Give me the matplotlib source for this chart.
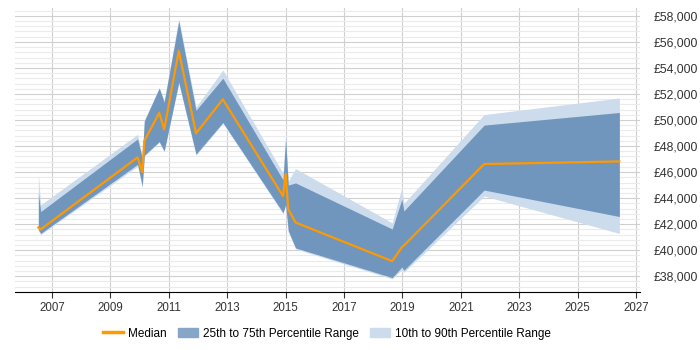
import numpy as np
import matplotlib.pyplot as plt
from matplotlib.patches import Patch
from matplotlib.lines import Line2D
from matplotlib.ticker import FuncFormatter, MultipleLocator

plt.rcParams['font.family'] = ['Liberation Sans', 'DejaVu Sans']

# sample dates (fractional years) and salary percentiles
years = [2006.53, 2006.61, 2009.93, 2010.09, 2010.16, 2010.67, 2010.84, 2011.34,
         2011.93, 2012.85, 2014.91, 2015.00, 2015.09, 2015.34, 2018.65, 2018.98,
         2019.05, 2021.80, 2026.43]
p90 = [45930, 43480, 48900, 47300, 50000, 52500, 51500, 57800,
       51000, 53840, 45930, 48700, 45300, 46270, 42100, 44790,
       43600, 50420, 51690]
p75 = [44400, 42970, 48550, 47070, 49920, 52450, 51380, 57600,
       50750, 53210, 45400, 48590, 45000, 45170, 41630, 43910,
       43020, 49610, 50580]
median = [41750, 41600, 47130, 46010, 48400, 50550, 49280, 55310,
          48980, 51590, 44160, 45860, 43150, 42130, 39160, 40230,
          40360, 46620, 46820]
p25 = [41600, 41290, 46600, 44920, 47300, 48340, 47630, 52900,
       47380, 49810, 42890, 43500, 41500, 40180, 37900, 38710,
       38460, 44620, 42590]
p10 = [41500, 41200, 46450, 44800, 47200, 48300, 47550, 52800,
       47300, 49750, 42800, 43400, 41400, 40100, 37800, 38500,
       38300, 44160, 41290]

fig = plt.figure(figsize=(7, 3.5), dpi=100)
ax = fig.add_axes([0.0214, 0.166, 0.893, 0.811])

ax.fill_between(years, p10, p90, color='#ccdcec', lw=0, zorder=2)
ax.fill_between(years, p25, p75, color='#7096be', lw=0, zorder=3)
ax.plot(years, median, color='#ff9900', lw=1.6, zorder=4)

ax.set_xlim(2005.73, 2027.14)
ax.set_ylim(36800, 58600)

ax.set_xticks(range(2007, 2028, 2))
ax.yaxis.set_major_locator(MultipleLocator(2000))
ax.yaxis.set_minor_locator(MultipleLocator(400))
ax.yaxis.set_major_formatter(FuncFormatter(lambda v, p: '£{:,.0f}'.format(v)))
ax.yaxis.tick_right()
ax.tick_params(axis='y', which='both', length=0, labelsize=8.8, labelcolor='#333333', pad=10)
ax.tick_params(axis='x', length=4, labelsize=8.3, labelcolor='#333333', color='#333333')

ax.grid(axis='y', which='major', color='#d0d0d0', lw=0.8, zorder=0)
ax.grid(axis='y', which='minor', color='#ebebeb', lw=0.8, zorder=0)
ax.grid(axis='x', which='major', color='#d0d0d0', lw=0.8, zorder=0)
ax.set_axisbelow(True)

for s in ['top', 'left', 'right']:
    ax.spines[s].set_visible(False)
ax.spines['bottom'].set_color('#000000')

handles = [Line2D([0], [0], color='#ff9900', lw=2.5),
           Patch(color='#86a6c8'),
           Patch(color='#ccdcec')]
labels = ['Median', '25th to 75th Percentile Range', '10th to 90th Percentile Range']
fig.legend(handles, labels, loc='center', bbox_to_anchor=(0.467, 0.047), ncol=3,
           frameon=False, fontsize=8.5, handlelength=1.7, handletextpad=0.45,
           columnspacing=0.9)

fig.savefig('out.png', dpi=100)
